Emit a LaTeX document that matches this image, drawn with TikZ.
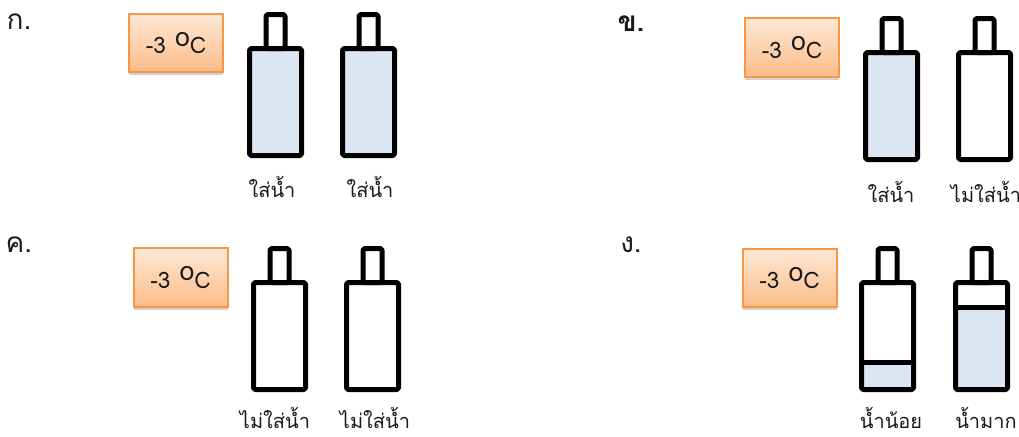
\documentclass[tikz,border=0pt]{standalone}
\usepackage{fontspec}
\setmainfont[Script=Thai]{Loma}
\usetikzlibrary{shadows}

\definecolor{waterblue}{HTML}{DCE6F2}
\definecolor{boxedge}{HTML}{F79646}
\definecolor{boxtop}{HTML}{FEE8D6}
\definecolor{boxbot}{HTML}{FBBC88}
\definecolor{ink}{HTML}{1A1A1A}

\tikzset{
  tempbox/.style={draw=boxedge, line width=1.5pt, top color=boxtop, bottom color=boxbot,
    minimum width=70.5pt, minimum height=44pt, inner sep=0pt,
    drop shadow={shadow xshift=0pt, shadow yshift=-2pt, opacity=0.18, fill=black},
    font=\fontsize{17}{19}\selectfont, text=ink},
  wall/.style={draw=black, line width=3.75pt, line join=round, rounded corners=1.2pt},
  caption/.style={font=\fontsize{15}{17}\selectfont, text=ink},
  panel/.style={font=\fontsize{21}{23}\selectfont, text=ink},
}

% A bottle: #1,#2 = outer top-left corner of the body (px);
% #3 = water: "full", "none", or the depth of the surface below the body top
\newcommand\bottle[3]{%
  \begin{scope}[shift={(#1,#2)}]
    \def\lvl{#3}\def\full{full}\def\none{none}%
    \ifx\lvl\full
      \fill[waterblue] (2.5,2.5) rectangle (54.5,109.5);
    \else\ifx\lvl\none\else
      \fill[waterblue] (2.5,#3) rectangle (54.5,109.5);
      \draw[wall, rounded corners=0pt] (2.5,#3) -- (54.5,#3);
    \fi\fi
    \draw[wall] (19,-31.5) rectangle (38,2.5);
    \draw[wall] (2.5,2.5) rectangle (54.5,109.5);
  \end{scope}}

\newcommand\degC{-3\hspace{0.4em}\raisebox{0.62ex}{\fontsize{20}{20}\selectfont o}C}

\begin{document}
\begin{tikzpicture}[x=0.75pt, y=-0.75pt]
  \useasboundingbox (0,0) rectangle (1019,436);

  % panel ก
  \node[panel] (pa) at (19,22) {ก.};
  \node[tempbox] (ta) at (176,43) {\degC};
  \bottle{247}{46}{full}
  \bottle{340}{46}{full}
  \node[caption] (la1) at (272,187) {ใส่น้ำ};
  \node[caption] (la2) at (370,187) {ใส่น้ำ};

  % panel ข
  \node[panel, font=\fontsize{21}{23}\selectfont\bfseries] (pb) at (631,24) {ข.};
  \node[tempbox] (tb) at (792,47.5) {\degC};
  \bottle{863}{50}{full}
  \bottle{956}{50}{none}
  \node[caption] (lb1) at (891,192) {ใส่น้ำ};
  \node[caption] (lb2) at (986,192) {ไม่ใส่น้ำ};

  % panel ค
  \node[panel] (pc) at (19,245) {ค.};
  \node[tempbox] (tc) at (180.5,277.5) {\degC};
  \bottle{251}{280}{none}
  \bottle{344}{280}{none}
  \node[caption] (lc1) at (275,418) {ไม่ใส่น้ำ};
  \node[caption] (lc2) at (375,418) {ไม่ใส่น้ำ};

  % panel ง
  \node[panel] (pd) at (631,245) {ง.};
  \node[tempbox] (td) at (789.5,278) {\degC};
  \bottle{859}{280}{82.5}
  \bottle{953}{280}{27.5}
  \node[caption] (ld1) at (891,418) {น้ำน้อย};
  \node[caption] (ld2) at (986,418) {น้ำมาก};
\end{tikzpicture}
\end{document}
